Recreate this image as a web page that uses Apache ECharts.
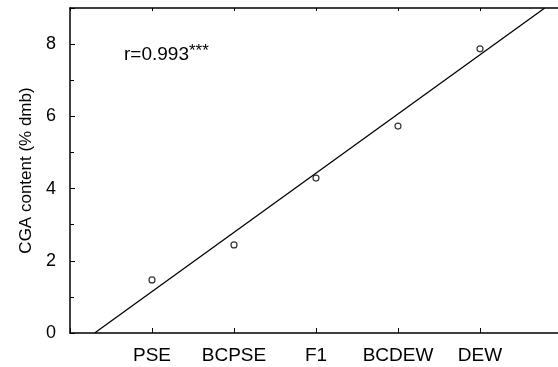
<!DOCTYPE html>
<html>
<head>
<meta charset="utf-8">
<script src="https://cdn.jsdelivr.net/npm/echarts@6/dist/echarts.min.js"></script>
<style>html,body{margin:0;padding:0;background:#fff;overflow:hidden;width:558px;height:367px}#c{width:580px;height:367px}</style>
</head>
<body>
<div id="c"></div>
<script>
var categories = ['PSE', 'BCPSE', 'F1', 'BCDEW', 'DEW'];
var categoryX = [1, 2, 3, 4, 5];
var cgaValues = [1.47, 2.44, 4.29, 5.73, 7.87];
var fitLineX = [0.3, 5.79];
var fitLineY = [0, 9.0];
var yTicks = [0, 2, 4, 6, 8];
var annotation = 'r=0.993';
var annotationStars = '***';

var FONT = '"Liberation Sans", Arial, Helvetica, sans-serif';
var chart = echarts.init(document.getElementById('c'), null, {renderer: 'canvas'});
chart.setOption({
  animation: false,
  backgroundColor: '#fff',
  grid: {left: 70, top: 8, right: 18, bottom: 34, containLabel: false},
  xAxis: [{
    type: 'value', min: 0, max: 6, interval: 1, position: 'bottom',
    axisLine: {show: true, lineStyle: {color: '#000', width: 1.5}},
    axisTick: {show: true, inside: true, length: 5, lineStyle: {color: '#000', width: 1}},
    splitLine: {show: false},
    axisLabel: {
      margin: 13, color: '#000', fontSize: 19, fontFamily: FONT,
      formatter: function (v) { var i = categoryX.indexOf(v); return i >= 0 ? categories[i] : ''; }
    }
  }, {
    type: 'value', min: 0, max: 6, interval: 1, position: 'top',
    axisLine: {show: true, onZero: false, lineStyle: {color: '#000', width: 1.5}},
    axisTick: {show: true, inside: true, length: 3, lineStyle: {color: '#000', width: 1}},
    axisLabel: {show: false}, splitLine: {show: false}
  }],
  yAxis: {
    type: 'value', min: 0, max: 9, interval: 2,
    name: 'CGA content (% dmb)', nameLocation: 'middle', nameGap: 34,
    nameTextStyle: {color: '#000', fontSize: 17, fontFamily: FONT},
    axisLine: {show: true, lineStyle: {color: '#000', width: 1.5}},
    axisTick: {show: true, inside: true, length: 5, lineStyle: {color: '#000', width: 1}},
    minorTick: {show: true, splitNumber: 2, length: 4, lineStyle: {color: '#000', width: 1}},
    splitLine: {show: false},
    axisLabel: {
      margin: 14, color: '#000', fontSize: 18, fontFamily: FONT,
      formatter: function (v) { return yTicks.indexOf(v) >= 0 ? String(v) : ''; }
    }
  },
  series: [{
    type: 'line', data: fitLineX.map(function (x, i) { return [x, fitLineY[i]]; }),
    showSymbol: false, lineStyle: {color: '#000', width: 1.3}, silent: true, clip: true
  }, {
    type: 'scatter', data: categoryX.map(function (x, i) { return [x, cgaValues[i]]; }),
    symbol: 'circle', symbolSize: 6,
    itemStyle: {color: '#fff', borderColor: '#000', borderWidth: 1.2}
  }],
  graphic: [{
    type: 'text', left: 124, top: 43,
    style: {
      text: '{a|' + annotation + '}{s|' + annotationStars + '}',
      rich: {
        a: {fontSize: 19, fontFamily: FONT, fill: '#000', color: '#000'},
        s: {fontSize: 17, fontFamily: FONT, fill: '#000', color: '#000', verticalAlign: 'top', padding: [0, 0, 6, 0]}
      }
    }
  }]
});
</script>
</body>
</html>
